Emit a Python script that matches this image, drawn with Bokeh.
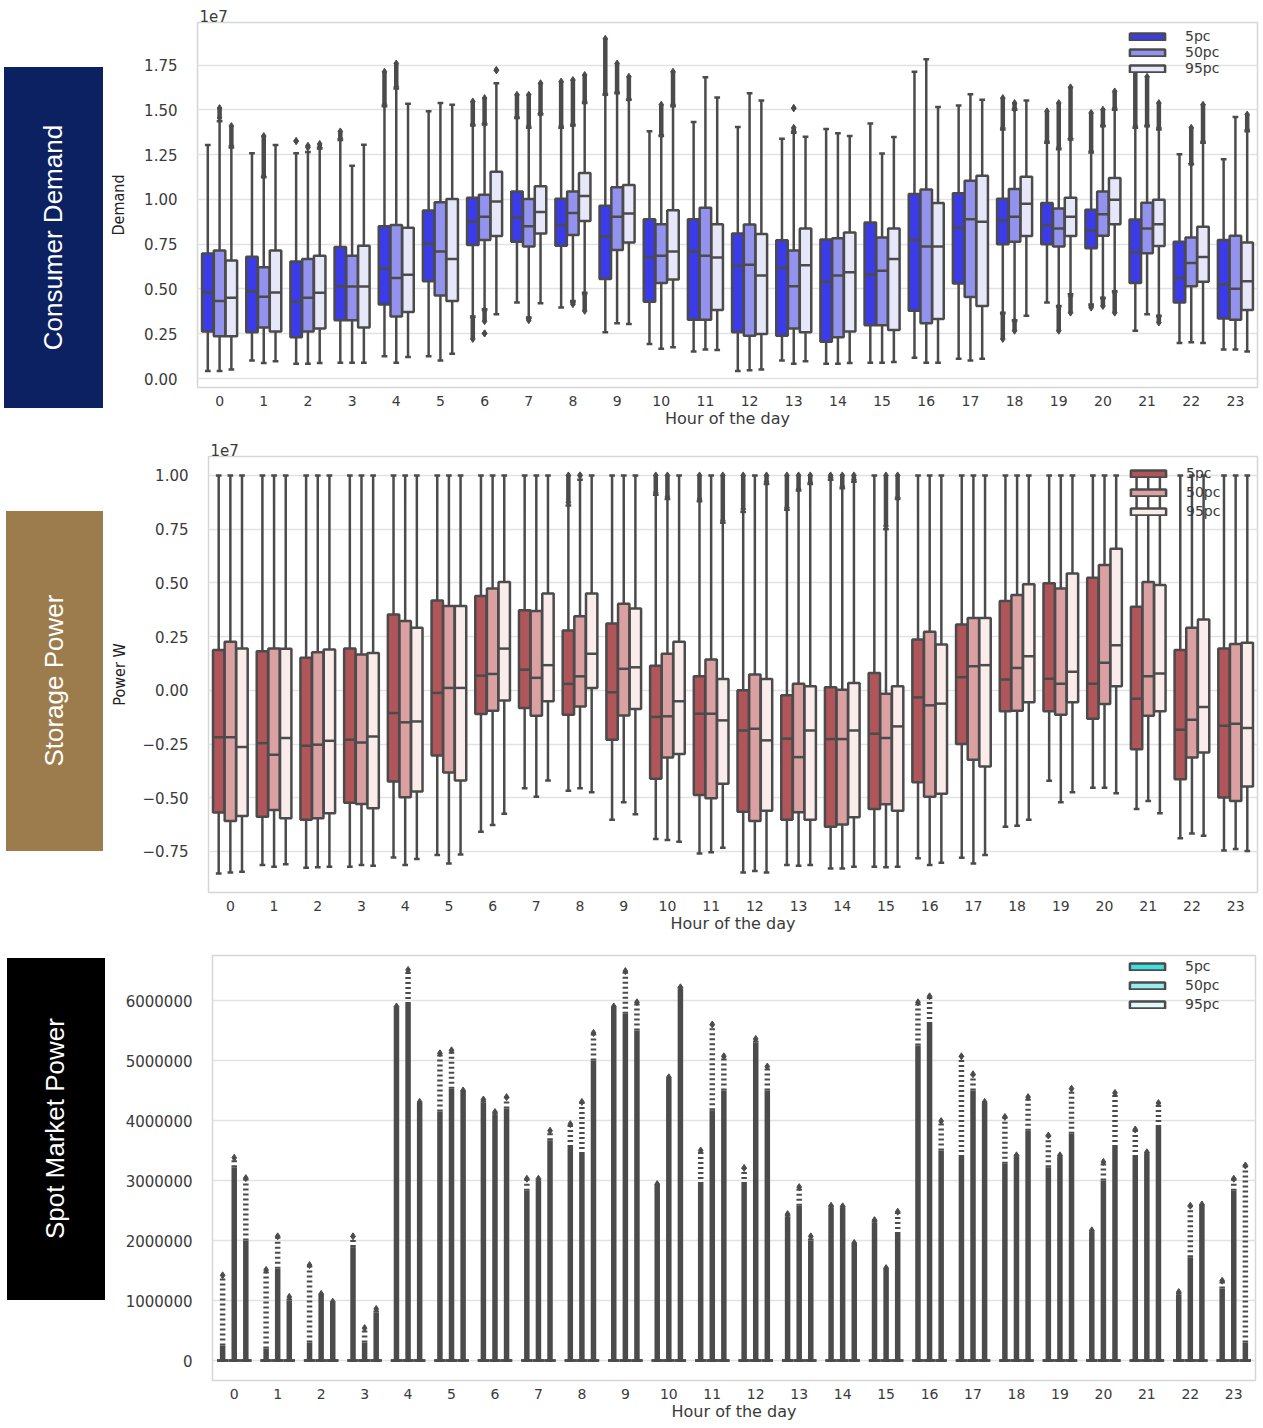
import math

from bokeh.embed import file_html
from bokeh.layouts import column, row
from bokeh.models import (ColumnDataSource, Div, FixedTicker, Legend, LegendItem,
                          NumeralTickFormatter, Range1d)
from bokeh.plotting import figure
from bokeh.resources import INLINE

# ---------------------------------------------------------------- data
HOURS = list(range(24))
GROUPS = ["5pc", "50pc", "95pc"]

# Consumer demand box statistics (axis units of 1e7)
DEM_LO_5 = [0.042, 0.101, 0.083, 0.088, 0.125, 0.125, 0.346, 0.424, 0.396, 0.258, 0.193, 0.151,
            0.042, 0.101, 0.083, 0.088, 0.116, 0.111, 0.368, 0.424, 0.414, 0.267, 0.199, 0.162]
DEM_Q1_5 = [0.262, 0.258, 0.230, 0.326, 0.413, 0.543, 0.746, 0.764, 0.742, 0.556, 0.429, 0.328,
            0.258, 0.239, 0.206, 0.298, 0.378, 0.530, 0.750, 0.750, 0.728, 0.534, 0.424, 0.335]
DEM_MED_5 = [0.481, 0.488, 0.429, 0.514, 0.613, 0.752, 0.875, 0.899, 0.857, 0.792, 0.678, 0.709,
             0.630, 0.617, 0.540, 0.580, 0.774, 0.842, 0.884, 0.857, 0.825, 0.705, 0.562, 0.525]
DEM_Q3_5 = [0.698, 0.680, 0.654, 0.735, 0.851, 0.938, 1.009, 1.044, 1.004, 0.965, 0.890, 0.890,
            0.810, 0.772, 0.777, 0.871, 1.031, 1.035, 1.004, 0.980, 0.943, 0.888, 0.764, 0.774]
DEM_HI_5 = [1.304, 1.258, 1.258, 1.332, 1.520, 1.492, 1.413, 1.455, 1.400, 1.584, 1.381, 1.433,
            1.404, 1.339, 1.394, 1.424, 1.713, 1.525, 1.391, 1.317, 1.262, 1.400, 1.253, 1.225]

DEM_LO_50 = [0.042, 0.087, 0.083, 0.088, 0.088, 0.101, 0.387, 0.341, 0.433, 0.309, 0.166, 0.162,
             0.046, 0.083, 0.083, 0.088, 0.088, 0.101, 0.326, 0.405, 0.451, 0.359, 0.203, 0.162]
DEM_Q1_50 = [0.236, 0.285, 0.262, 0.326, 0.346, 0.464, 0.774, 0.737, 0.801, 0.718, 0.534, 0.328,
             0.239, 0.280, 0.230, 0.298, 0.309, 0.455, 0.764, 0.737, 0.798, 0.700, 0.516, 0.328]
DEM_MED_50 = [0.433, 0.457, 0.451, 0.514, 0.562, 0.709, 0.903, 0.851, 0.925, 0.903, 0.685, 0.685,
              0.635, 0.516, 0.575, 0.602, 0.737, 0.890, 0.903, 0.838, 0.917, 0.838, 0.645, 0.501]
DEM_Q3_50 = [0.715, 0.621, 0.667, 0.685, 0.857, 0.985, 1.026, 1.002, 1.044, 1.068, 0.862, 0.954,
             0.860, 0.715, 0.783, 0.787, 1.055, 1.105, 1.059, 0.949, 1.044, 0.982, 0.787, 0.798]
DEM_HI_50 = [1.437, 1.124, 1.265, 1.188, 1.620, 1.538, 1.418, 1.400, 1.413, 1.593, 1.354, 1.682,
             1.593, 1.372, 1.369, 1.256, 1.783, 1.588, 1.501, 1.280, 1.409, 1.409, 1.197, 1.461]

DEM_LO_95 = [0.050, 0.096, 0.087, 0.088, 0.120, 0.138, 0.359, 0.420, 0.479, 0.304, 0.175, 0.160,
             0.050, 0.096, 0.087, 0.092, 0.088, 0.111, 0.350, 0.470, 0.488, 0.350, 0.199, 0.151]
DEM_Q1_95 = [0.236, 0.262, 0.280, 0.285, 0.372, 0.433, 0.796, 0.810, 0.879, 0.759, 0.553, 0.383,
             0.249, 0.258, 0.263, 0.271, 0.332, 0.405, 0.796, 0.796, 0.862, 0.740, 0.540, 0.383]
DEM_MED_95 = [0.451, 0.481, 0.479, 0.514, 0.580, 0.667, 0.989, 0.930, 1.019, 0.921, 0.709, 0.676,
              0.575, 0.632, 0.593, 0.667, 0.737, 0.875, 0.976, 0.903, 0.998, 0.862, 0.678, 0.543]
DEM_Q3_95 = [0.659, 0.715, 0.685, 0.742, 0.842, 1.002, 1.155, 1.074, 1.148, 1.081, 0.939, 0.862,
             0.807, 0.838, 0.816, 0.838, 0.980, 1.133, 1.127, 1.009, 1.120, 0.998, 0.848, 0.759]
DEM_HI_95 = [1.290, 1.304, 1.284, 1.306, 1.534, 1.529, 1.649, 1.474, 1.538, 1.556, 1.520, 1.569,
             1.553, 1.350, 1.354, 1.348, 1.516, 1.556, 1.553, 1.335, 1.501, 1.391, 1.317, 1.381]

# Demand flier runs: (hour, group index, lowest flier, highest flier)
DEM_FLIERS = [
    (0, 1, 1.455, 1.510), (0, 2, 1.300, 1.410), (1, 1, 1.130, 1.354), (2, 0, 1.326, 1.326),
    (2, 1, 1.290, 1.300), (2, 2, 1.290, 1.310), (3, 0, 1.340, 1.380), (4, 0, 1.530, 1.713),
    (4, 1, 1.630, 1.759), (6, 0, 1.420, 1.547), (6, 0, 0.221, 0.340), (6, 1, 1.425, 1.566),
    (6, 1, 0.320, 0.380), (6, 1, 0.252, 0.252), (6, 2, 1.722, 1.722), (7, 0, 1.460, 1.584),
    (7, 1, 1.410, 1.584), (7, 1, 0.326, 0.335), (7, 2, 1.480, 1.649), (8, 0, 1.410, 1.658),
    (8, 1, 1.420, 1.667), (8, 1, 0.415, 0.425), (8, 2, 1.545, 1.695), (8, 2, 0.378, 0.470),
    (9, 0, 1.590, 1.897), (9, 1, 1.600, 1.759), (9, 2, 1.560, 1.685), (10, 1, 1.360, 1.529),
    (10, 2, 1.530, 1.713), (13, 1, 1.380, 1.400), (13, 1, 1.510, 1.510), (18, 0, 1.400, 1.566),
    (18, 0, 0.221, 0.360), (18, 1, 1.505, 1.538), (18, 1, 0.267, 0.320), (19, 0, 1.325, 1.492),
    (19, 1, 1.290, 1.538), (19, 1, 0.267, 0.400), (19, 2, 1.340, 1.626), (19, 2, 0.368, 0.460),
    (20, 0, 1.270, 1.483), (20, 0, 0.396, 0.405), (20, 1, 1.415, 1.501), (20, 1, 0.405, 0.445),
    (20, 2, 1.510, 1.603), (20, 2, 0.368, 0.480), (21, 0, 1.410, 1.722), (21, 1, 1.415, 1.685),
    (21, 2, 1.400, 1.538), (21, 2, 0.313, 0.345), (22, 1, 1.200, 1.400), (22, 2, 1.325, 1.529),
    (23, 2, 1.390, 1.474),
]

# Storage power box statistics (axis units of 1e7)
STO_LO_5 = [-0.852, -0.813, -0.826, -0.821, -0.778, -0.767, -0.658, -0.456, -0.467, -0.603, -0.692, -0.759,
            -0.848, -0.813, -0.829, -0.821, -0.782, -0.779, -0.635, -0.421, -0.453, -0.552, -0.689, -0.746]
STO_Q1_5 = [-0.569, -0.588, -0.603, -0.523, -0.425, -0.303, -0.110, -0.082, -0.114, -0.230, -0.412, -0.487,
            -0.565, -0.603, -0.635, -0.552, -0.428, -0.250, -0.098, -0.098, -0.132, -0.274, -0.414, -0.499]
STO_MED_5 = [-0.219, -0.246, -0.258, -0.230, -0.106, -0.012, 0.068, 0.096, 0.030, -0.009, -0.124, -0.109,
             -0.187, -0.225, -0.227, -0.202, -0.033, 0.061, 0.050, 0.054, 0.031, -0.039, -0.184, -0.165]
STO_Q3_5 = [0.187, 0.182, 0.151, 0.194, 0.353, 0.418, 0.439, 0.373, 0.278, 0.311, 0.114, 0.065,
            0.000, -0.023, 0.014, 0.081, 0.236, 0.306, 0.415, 0.498, 0.524, 0.389, 0.187, 0.194]
STO_HI_5 = [1.0, 1.0, 1.0, 1.0, 1.0, 1.0, 1.0, 1.0, 0.86, 1.0, 0.91, 0.88,
            0.83, 0.84, 0.98, 1.0, 1.0, 1.0, 1.0, 1.0, 1.0, 1.0, 1.0, 1.0]

STO_LO_50 = [-0.848, -0.821, -0.824, -0.813, -0.813, -0.806, -0.627, -0.495, -0.456, -0.521, -0.697, -0.754,
             -0.841, -0.816, -0.829, -0.824, -0.813, -0.806, -0.630, -0.521, -0.453, -0.515, -0.666, -0.739]
STO_Q1_50 = [-0.608, -0.557, -0.596, -0.529, -0.498, -0.383, -0.095, -0.118, -0.075, -0.117, -0.313, -0.502,
             -0.608, -0.568, -0.624, -0.530, -0.495, -0.323, -0.095, -0.114, -0.064, -0.118, -0.313, -0.515]
STO_MED_50 = [-0.218, -0.300, -0.253, -0.243, -0.149, 0.011, 0.076, 0.058, 0.065, 0.100, -0.121, -0.109,
              -0.179, -0.311, -0.227, -0.222, -0.070, 0.112, 0.104, 0.031, 0.128, 0.065, -0.137, -0.156]
STO_Q3_50 = [0.226, 0.194, 0.177, 0.166, 0.322, 0.392, 0.474, 0.369, 0.345, 0.403, 0.170, 0.143,
             0.073, 0.030, 0.003, -0.016, 0.272, 0.337, 0.443, 0.474, 0.583, 0.504, 0.291, 0.216]
STO_HI_50 = [1.0, 1.0, 1.0, 1.0, 1.0, 1.0, 1.0, 1.0, 0.98, 1.0, 0.89, 1.0,
             1.0, 0.93, 0.94, 0.75, 1.0, 1.0, 1.0, 1.0, 1.0, 1.0, 1.0, 1.0]

STO_LO_95 = [-0.844, -0.810, -0.821, -0.816, -0.785, -0.764, -0.575, -0.420, -0.474, -0.577, -0.705, -0.733,
             -0.848, -0.813, -0.821, -0.821, -0.802, -0.767, -0.603, -0.474, -0.479, -0.572, -0.677, -0.748]
STO_Q1_95 = [-0.585, -0.596, -0.572, -0.549, -0.471, -0.420, -0.048, -0.051, 0.011, -0.087, -0.297, -0.435,
             -0.560, -0.603, -0.591, -0.560, -0.482, -0.355, -0.056, -0.056, 0.019, -0.098, -0.289, -0.448]
STO_MED_95 = [-0.264, -0.222, -0.235, -0.215, -0.145, 0.011, 0.194, 0.117, 0.170, 0.107, -0.051, -0.140,
              -0.233, -0.187, -0.187, -0.168, -0.062, 0.117, 0.159, 0.086, 0.210, 0.078, -0.078, -0.176]
STO_Q3_95 = [0.194, 0.193, 0.190, 0.174, 0.291, 0.392, 0.504, 0.451, 0.451, 0.381, 0.226, 0.053,
             0.053, 0.019, 0.034, 0.019, 0.213, 0.337, 0.493, 0.543, 0.659, 0.490, 0.330, 0.221]
STO_HI_95 = [1.0, 1.0, 1.0, 1.0, 1.0, 1.0, 1.0, 1.0, 1.0, 1.0, 1.0, 0.78,
             0.96, 0.96, 0.97, 0.89, 1.0, 1.0, 1.0, 1.0, 1.0, 1.0, 1.0, 1.0]

# Storage flier runs: (hour, group index, lowest flier, highest flier)
STO_FLIERS = [
    (8, 0, 0.874, 1.0), (8, 1, 1.0, 1.0), (10, 0, 0.92, 1.0), (10, 1, 0.90, 1.0),
    (11, 0, 0.89, 1.0), (11, 2, 0.79, 1.0), (12, 0, 0.843, 1.0), (12, 2, 0.97, 1.0),
    (13, 0, 0.85, 1.0), (13, 1, 0.936, 1.0), (13, 2, 0.967, 1.0), (14, 0, 0.99, 1.0),
    (14, 1, 0.95, 1.0), (14, 2, 0.98, 1.0), (15, 1, 0.765, 1.0), (15, 2, 0.897, 1.0),
]

# Spot market power: every quartile sits at 0 W, all other samples are fliers
SPOT_QUARTILE = [0, 0, 0, 0, 0, 0, 0, 0, 0, 0, 0, 0, 0, 0, 0, 0, 0, 0, 0, 0, 0, 0, 0, 0]
# Top of the solid flier column and highest flier, in MW
SPOT_DENSE_5 = [0.25, 0.20, 0.30, 1.89, 5.90, 4.15, 4.30, 2.83, 3.56, 5.90, 2.94, 2.94,
                2.94, 2.40, 2.55, 2.30, 5.25, 3.39, 3.28, 3.22, 2.15, 3.39, 1.10, 1.20]
SPOT_PEAK_5 = [1.42, 1.51, 1.59, 2.07, 5.90, 5.12, 4.35, 3.03, 3.94, 5.90, 2.94, 3.50,
               3.21, 2.44, 2.58, 2.34, 5.97, 5.07, 4.06, 3.75, 2.17, 3.85, 1.14, 1.33]
SPOT_DENSE_50 = [3.22, 1.53, 1.11, 0.30, 5.94, 4.53, 4.10, 3.00, 3.44, 5.78, 4.70, 4.17,
                 5.30, 2.58, 2.55, 1.54, 5.61, 4.50, 3.40, 3.40, 3.00, 3.45, 1.72, 2.83]
SPOT_PEAK_50 = [3.38, 2.07, 1.11, 0.54, 6.51, 5.17, 4.14, 3.03, 4.31, 6.49, 4.72, 5.60,
                5.36, 2.89, 2.57, 1.54, 6.07, 4.77, 3.42, 3.42, 3.31, 3.47, 2.58, 3.03]
SPOT_DENSE_95 = [2.00, 1.00, 0.98, 0.80, 4.30, 4.50, 4.20, 3.67, 5.00, 5.50, 6.20, 4.50,
                 4.50, 2.00, 1.95, 2.11, 3.50, 4.30, 3.83, 3.78, 3.56, 3.89, 2.60, 0.30]
SPOT_PEAK_95 = [3.04, 1.06, 0.98, 0.86, 4.31, 4.50, 4.39, 3.83, 5.46, 5.97, 6.22, 5.07,
                4.90, 2.07, 1.96, 2.48, 3.99, 4.31, 4.39, 4.53, 4.46, 4.29, 2.60, 3.25]

DEM_TICKS = [0.0, 0.25, 0.5, 0.75, 1.0, 1.25, 1.5, 1.75]
STO_TICKS = [-0.75, -0.5, -0.25, 0.0, 0.25, 0.5, 0.75, 1.0]
SPOT_TICKS = [0, 1000000, 2000000, 3000000, 4000000, 5000000, 6000000]

# ---------------------------------------------------------------- styling
BLUES = ["#3b3bea", "#9393ef", "#e7e7fa"]
REDS = ["#b0555a", "#daa0a2", "#fbecec"]
CYANS = ["#3ee0e0", "#98eeee", "#e2fafa"]
EDGE = "#4b4b4b"
TEXT = "#3a3a3a"
LW = 2.5
OFFSETS = [-0.2667, 0.0, 0.2667]
BOX_W = 0.26
SIDE_W = 106
NARROW = "Liberation Sans Narrow, DejaVu Sans Condensed, Roboto Condensed, Liberation Sans, sans-serif"


def side_label(text, color, block_h, x0, x1, y_top, y_bottom):
    """Coloured caption block to the left of a panel (px offsets inside the block)."""
    html = (
        f'<div style="padding:{y_top}px 0 0 {x0}px;margin:0;">'
        f'<div style="width:{x1 - x0}px;height:{y_bottom - y_top}px;background:{color};'
        f'display:flex;align-items:center;justify-content:center;overflow:visible;">'
        f'<span style="display:inline-block;transform:rotate(-90deg);white-space:nowrap;'
        f'color:white;font-family:\'Liberation Sans\', Arial, sans-serif;font-size:26px;">'
        f'{text}</span></div></div>'
    )
    return Div(text=html, width=SIDE_W, height=block_h, margin=0,
               styles={"padding": "0", "margin": "0"})


def base_figure(fig_h, y_range, border_left, border_right, border_top, border_bottom, ticks):
    p = figure(width=1263 - SIDE_W, height=fig_h, x_range=Range1d(-0.5, 23.5), y_range=y_range,
               toolbar_location=None, output_backend="svg",
               min_border_left=border_left, min_border_right=border_right,
               min_border_top=border_top, min_border_bottom=border_bottom)
    p.background_fill_color = "white"
    p.border_fill_color = "white"
    p.outline_line_color = "#d6d6d6"
    p.outline_line_width = 1.5
    p.xgrid.visible = False
    p.ygrid.grid_line_color = "#e2e2e2"
    p.ygrid.grid_line_width = 1.5
    p.xaxis.ticker = FixedTicker(ticks=HOURS)
    p.yaxis.ticker = FixedTicker(ticks=ticks)
    for ax in (p.xaxis, p.yaxis):
        ax.axis_line_color = None
        ax.major_tick_line_color = None
        ax.minor_tick_line_color = None
        ax.major_label_text_font = "DejaVu Sans"
        ax.major_label_text_color = TEXT
    p.yaxis.major_label_text_font_size = "15px"
    p.xaxis.major_label_text_font_size = "14px"
    p.yaxis.major_label_standoff = 14
    p.xaxis.major_label_standoff = 2
    p.xaxis.axis_label = "Hour of the day"
    p.xaxis.axis_label_text_font = "DejaVu Sans"
    p.xaxis.axis_label_text_font_size = "16px"
    p.xaxis.axis_label_text_font_style = "normal"
    p.xaxis.axis_label_text_color = TEXT
    p.xaxis.axis_label_standoff = 0
    return p


def add_boxes(p, stats, colors):
    rends = []
    for gi, (lo, q1, med, q3, hi) in enumerate(stats):
        xs = [h + OFFSETS[gi] for h in HOURS]
        src = ColumnDataSource(dict(
            x=xs, lo=lo, q1=q1, med=med, q3=q3, hi=hi,
            xl=[x - BOX_W / 2 for x in xs], xr=[x + BOX_W / 2 for x in xs],
            cl=[x - BOX_W / 4 for x in xs], cr=[x + BOX_W / 4 for x in xs]))
        kw = dict(source=src, line_color=EDGE, line_width=LW)
        p.segment(x0="x", y0="q3", x1="x", y1="hi", **kw)
        p.segment(x0="x", y0="lo", x1="x", y1="q1", **kw)
        p.segment(x0="cl", y0="hi", x1="cr", y1="hi", **kw)
        p.segment(x0="cl", y0="lo", x1="cr", y1="lo", **kw)
        r = p.vbar(x="x", width=BOX_W, bottom="q1", top="q3", fill_color=colors[gi], **kw)
        p.segment(x0="xl", y0="med", x1="xr", y1="med", **kw)
        rends.append(r)
    return rends


def add_fliers(p, runs):
    xs = [h + OFFSETS[g] for h, g, _, _ in runs]
    lows = [lo for _, _, lo, _ in runs]
    highs = [hi for _, _, _, hi in runs]
    p.segment(x0=xs, y0=lows, x1=xs, y1=highs, line_color=EDGE, line_width=4.5)
    p.scatter(x=xs + xs, y=lows + highs, marker="diamond", size=7,
              fill_color=EDGE, line_color=EDGE)


def add_legend(p, rends, loc, spacing, level="annotation"):
    legend = Legend(items=[LegendItem(label=g, renderers=[r]) for g, r in zip(GROUPS, rends)],
                    location=loc, glyph_width=44, glyph_height=9, label_standoff=16,
                    label_height=15, spacing=spacing, padding=0, margin=0,
                    label_text_font="DejaVu Sans", label_text_font_size="14px",
                    label_text_color=TEXT, border_line_color=None, background_fill_alpha=0,
                    level=level)
    p.add_layout(legend)


# ---------------------------------------------------------------- consumer demand
p1 = base_figure(430, Range1d(-0.05, 1.988), 91, 6, 22, 40, DEM_TICKS)
p1.yaxis.formatter = NumeralTickFormatter(format="0.00")
p1.yaxis.axis_label = "Demand"
p1.title.text = "1e7"
r1 = add_boxes(p1, [
    (DEM_LO_5, DEM_Q1_5, DEM_MED_5, DEM_Q3_5, DEM_HI_5),
    (DEM_LO_50, DEM_Q1_50, DEM_MED_50, DEM_Q3_50, DEM_HI_50),
    (DEM_LO_95, DEM_Q1_95, DEM_MED_95, DEM_Q3_95, DEM_HI_95)], BLUES)
add_fliers(p1, DEM_FLIERS)
add_legend(p1, r1, (928, 311), 0)

# ---------------------------------------------------------------- storage power
p2 = base_figure(510, Range1d(-0.941, 1.088), 99, 6, 26, 48, STO_TICKS)
p2.yaxis.major_label_overrides = {t: ("\u2212%.2f" % -t if t < 0 else "%.2f" % t) for t in STO_TICKS}
p2.yaxis.axis_label = "Power W"
p2.title.text = "1e7"
r2 = add_boxes(p2, [
    (STO_LO_5, STO_Q1_5, STO_MED_5, STO_Q3_5, STO_HI_5),
    (STO_LO_50, STO_Q1_50, STO_MED_50, STO_Q3_50, STO_HI_50),
    (STO_LO_95, STO_Q1_95, STO_MED_95, STO_Q3_95, STO_HI_95)], REDS)
add_fliers(p2, STO_FLIERS)
add_legend(p2, r2, (918, 373), 3, level="underlay")

# ---------------------------------------------------------------- spot market power
p3 = base_figure(488, Range1d(-333000, 6750000), 106, 8, 15, 48, SPOT_TICKS)
p3.yaxis.formatter = NumeralTickFormatter(format="0")
r3 = add_boxes(p3, [(SPOT_QUARTILE,) * 5] * 3, CYANS)
MW = 1000000
for gi, (dense, peak) in enumerate([(SPOT_DENSE_5, SPOT_PEAK_5), (SPOT_DENSE_50, SPOT_PEAK_50),
                                    (SPOT_DENSE_95, SPOT_PEAK_95)]):
    xs = [h + OFFSETS[gi] for h in HOURS]
    src = ColumnDataSource(dict(x=xs, zero=[q * MW for q in SPOT_QUARTILE],
                                dense=[d * MW for d in dense], peak=[v * MW for v in peak]))
    p3.segment(x0="x", y0="zero", x1="x", y1="dense", source=src, line_color=EDGE, line_width=5.5)
    p3.segment(x0="x", y0="dense", x1="x", y1="peak", source=src, line_color=EDGE, line_width=5.5,
               line_dash="2 3")
    p3.scatter(x="x", y="peak", source=src, marker="diamond", size=7,
               fill_color=EDGE, line_color=EDGE)
add_legend(p3, r3, (913, 368), 3)

for p in (p1, p2):
    p.title.text_font = "DejaVu Sans"
    p.title.text_font_size = "15px"
    p.title.text_font_style = "normal"
    p.title.text_color = TEXT
    p.title.align = "left"
    p.title.offset = 2
    p.title.standoff = 1
    p.yaxis.axis_label_text_font = NARROW
    p.yaxis.axis_label_text_font_size = "16px"
    p.yaxis.axis_label_text_font_style = "normal"
    p.yaxis.axis_label_text_color = "#222222"
p1.yaxis.axis_label_standoff = 13
p2.yaxis.axis_label_standoff = 11

s1 = side_label("Consumer Demand", "#0c2161", 430, 4, 103, 67, 408)
s2 = side_label("Storage Power", "#9c7c4c", 510, 6, 103, 81, 421)
s3 = side_label("Spot Market Power", "#000000", 488, 7, 105, 18, 360)

layout = column(row(s1, p1), row(s2, p2), row(s3, p3))
open("out.html", "w").write(file_html(layout, INLINE))
